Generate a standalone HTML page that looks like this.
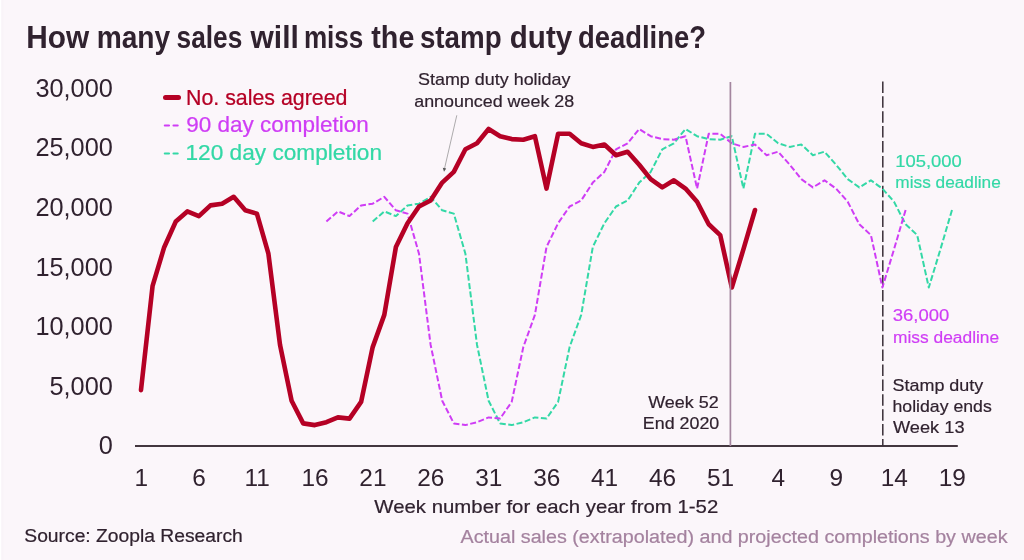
<!DOCTYPE html>
<html><head><meta charset="utf-8"><style>
html,body{margin:0;padding:0;background:#fbf6fa;overflow:hidden;}
svg{display:block;font-family:"Liberation Sans",sans-serif;will-change:transform;}
</style></head><body>
<svg width="1024" height="560" viewBox="0 0 1024 560">
<rect width="1024" height="560" fill="#fbf6fa"/>
<rect width="1.4" height="560" fill="#ffffff"/><rect x="1.4" width="2.2" height="560" fill="#f9f4f8"/>
<text x="26.19" y="48.2" font-size="31" fill="#30222f" textLength="62.86" lengthAdjust="spacingAndGlyphs" font-weight="bold">How</text>
<text x="96.67" y="48.2" font-size="31" fill="#30222f" textLength="73.54" lengthAdjust="spacingAndGlyphs" font-weight="bold">many</text>
<text x="176.58" y="48.2" font-size="31" fill="#30222f" textLength="65.77" lengthAdjust="spacingAndGlyphs" font-weight="bold">sales</text>
<text x="250.57" y="48.2" font-size="31" fill="#30222f" textLength="48.26" lengthAdjust="spacingAndGlyphs" font-weight="bold">will</text>
<text x="303.9" y="48.2" font-size="31" fill="#30222f" textLength="59.49" lengthAdjust="spacingAndGlyphs" font-weight="bold">miss</text>
<text x="371.34" y="48.2" font-size="31" fill="#30222f" textLength="42.99" lengthAdjust="spacingAndGlyphs" font-weight="bold">the</text>
<text x="419.93" y="48.2" font-size="31" fill="#30222f" textLength="81.69" lengthAdjust="spacingAndGlyphs" font-weight="bold">stamp</text>
<text x="509.82" y="48.2" font-size="31" fill="#30222f" textLength="62.36" lengthAdjust="spacingAndGlyphs" font-weight="bold">duty</text>
<text x="577.9" y="48.2" font-size="31" fill="#30222f" textLength="128.08" lengthAdjust="spacingAndGlyphs" font-weight="bold">deadline?</text>
<text x="112.8" y="454.3" font-size="25.3" fill="#30222f" text-anchor="end">0</text>
<text x="112.8" y="394.7" font-size="25.3" fill="#30222f" text-anchor="end">5,000</text>
<text x="112.8" y="335.1" font-size="25.3" fill="#30222f" text-anchor="end">10,000</text>
<text x="112.8" y="275.6" font-size="25.3" fill="#30222f" text-anchor="end">15,000</text>
<text x="112.8" y="216.0" font-size="25.3" fill="#30222f" text-anchor="end">20,000</text>
<text x="112.8" y="156.4" font-size="25.3" fill="#30222f" text-anchor="end">25,000</text>
<text x="112.8" y="96.8" font-size="25.3" fill="#30222f" text-anchor="end">30,000</text>
<text x="141.2" y="486.2" font-size="24.4" fill="#30222f" text-anchor="middle">1</text>
<text x="199.1" y="486.2" font-size="24.4" fill="#30222f" text-anchor="middle">6</text>
<text x="257.1" y="486.2" font-size="24.4" fill="#30222f" text-anchor="middle">11</text>
<text x="315.0" y="486.2" font-size="24.4" fill="#30222f" text-anchor="middle">16</text>
<text x="372.9" y="486.2" font-size="24.4" fill="#30222f" text-anchor="middle">21</text>
<text x="430.8" y="486.2" font-size="24.4" fill="#30222f" text-anchor="middle">26</text>
<text x="488.8" y="486.2" font-size="24.4" fill="#30222f" text-anchor="middle">31</text>
<text x="546.7" y="486.2" font-size="24.4" fill="#30222f" text-anchor="middle">36</text>
<text x="604.6" y="486.2" font-size="24.4" fill="#30222f" text-anchor="middle">41</text>
<text x="662.5" y="486.2" font-size="24.4" fill="#30222f" text-anchor="middle">46</text>
<text x="720.5" y="486.2" font-size="24.4" fill="#30222f" text-anchor="middle">51</text>
<text x="778.4" y="486.2" font-size="24.4" fill="#30222f" text-anchor="middle">4</text>
<text x="836.3" y="486.2" font-size="24.4" fill="#30222f" text-anchor="middle">9</text>
<text x="894.2" y="486.2" font-size="24.4" fill="#30222f" text-anchor="middle">14</text>
<text x="952.2" y="486.2" font-size="24.4" fill="#30222f" text-anchor="middle">19</text>
<line x1="135" y1="446" x2="957.8" y2="446" stroke="#43363f" stroke-width="1.8"/>
<text x="374.3" y="513.3" font-size="18.6" fill="#30222f" stroke="#30222f" stroke-width="0.2" textLength="344" lengthAdjust="spacingAndGlyphs">Week number for each year from 1-52</text>
<text x="24.3" y="541.6" font-size="18.8" fill="#30222f" stroke="#30222f" stroke-width="0.21" textLength="218.5" lengthAdjust="spacingAndGlyphs">Source: Zoopla Research</text>
<text x="460.5" y="542.5" font-size="18.8" fill="#a4829f" stroke="#a4829f" stroke-width="0.21" textLength="547" lengthAdjust="spacingAndGlyphs">Actual sales (extrapolated) and projected completions by week</text>
<line x1="882.8" y1="81.4" x2="882.8" y2="446" stroke="#3a2e38" stroke-width="1.5" stroke-dasharray="11.5 3.4"/>
<path d="M372.7 221.5 L384.3 211.4 L395.9 216.1 L407.5 205.4 L419.0 203.7 L430.6 196.8 L442.2 210.3 L453.8 213.6 L465.4 253.7 L477.0 344.7 L488.6 400.7 L500.1 423.4 L511.7 425.1 L523.3 422.2 L534.9 417.4 L546.5 418.6 L558.1 401.9 L569.6 347.1 L581.2 314.9 L592.8 247.0 L604.4 223.2 L616.0 206.5 L627.6 200.5 L639.2 182.6 L650.7 171.9 L662.3 149.3 L673.9 143.3 L685.5 129.0 L697.1 136.2 L708.7 139.1 L720.2 139.7 L731.8 136.2 L743.4 188.6 L755.0 133.8 L766.6 133.8 L778.2 143.3 L789.8 146.9 L801.3 144.5 L812.9 155.2 L824.5 151.7 L836.1 164.8 L847.7 179.1 L859.3 187.4 L870.9 180.3 L882.4 188.6 L894.0 201.7 L905.6 224.3 L917.2 235.1 L928.8 287.5 L940.4 249.4 L952.0 210.0" fill="none" stroke="#33d8a6" stroke-width="2" stroke-dasharray="6 2.5" stroke-linejoin="round"/>
<path d="M326.4 221.5 L337.9 211.4 L349.5 216.1 L361.1 205.4 L372.7 203.7 L384.3 196.8 L395.9 210.3 L407.5 213.6 L419.0 253.7 L430.6 344.7 L442.2 400.7 L453.8 423.4 L465.4 425.1 L477.0 422.2 L488.6 417.4 L500.1 418.6 L511.7 401.9 L523.3 347.1 L534.9 314.9 L546.5 247.0 L558.1 223.2 L569.6 206.5 L581.2 200.5 L592.8 182.6 L604.4 171.9 L616.0 149.3 L627.6 143.3 L639.2 129.0 L650.7 136.2 L662.3 139.1 L673.9 139.7 L685.5 136.2 L697.1 188.6 L708.7 133.8 L720.2 133.8 L731.8 143.3 L743.4 146.9 L755.0 144.5 L766.6 155.2 L778.2 151.7 L789.8 164.8 L801.3 179.1 L812.9 187.4 L824.5 180.3 L836.1 188.6 L847.7 201.7 L859.3 224.3 L870.9 235.1 L882.4 287.5 L894.0 249.4 L905.6 210.0" fill="none" stroke="#cf3df5" stroke-width="2" stroke-dasharray="6 2.5" stroke-linejoin="round"/>
<path d="M141.0 390.1 L152.6 285.8 L164.2 247.2 L175.8 221.5 L187.3 211.4 L198.9 216.1 L210.5 205.4 L222.1 203.7 L233.7 196.8 L245.3 210.3 L256.9 213.6 L268.4 253.7 L280.0 344.7 L291.6 400.7 L303.2 423.4 L314.8 425.1 L326.4 422.2 L337.9 417.4 L349.5 418.6 L361.1 401.9 L372.7 347.1 L384.3 314.9 L395.9 247.0 L407.5 223.2 L419.0 206.5 L430.6 200.5 L442.2 182.6 L453.8 171.9 L465.4 149.3 L477.0 143.3 L488.6 129.0 L500.1 136.2 L511.7 139.1 L523.3 139.7 L534.9 136.2 L546.5 188.6 L558.1 133.8 L569.6 133.8 L581.2 143.3 L592.8 146.9 L604.4 144.5 L616.0 155.2 L627.6 151.7 L639.2 164.8 L650.7 179.1 L662.3 187.4 L673.9 180.3 L685.5 188.6 L697.1 201.7 L708.7 224.3 L720.2 235.1 L731.8 287.5 L743.4 249.4 L755.0 210.0" fill="none" stroke="#b50125" stroke-width="4.6" stroke-linejoin="round" stroke-linecap="round"/>
<line x1="730.4" y1="82" x2="730.4" y2="446" stroke="#a4869f" stroke-width="1.7"/>
<line x1="165.5" y1="97.6" x2="178.5" y2="97.6" stroke="#b50125" stroke-width="5" stroke-linecap="round"/>
<text x="186" y="104.6" font-size="21.6" fill="#b50125" stroke="#b50125" stroke-width="0.24" textLength="161.5" lengthAdjust="spacingAndGlyphs">No. sales agreed</text>
<text x="186.2" y="132" font-size="21.6" fill="#cf3df5" stroke="#cf3df5" stroke-width="0.24" textLength="182.5" lengthAdjust="spacingAndGlyphs">90 day completion</text>
<text x="185.5" y="159.7" font-size="21.6" fill="#33d8a6" stroke="#33d8a6" stroke-width="0.24" textLength="196.5" lengthAdjust="spacingAndGlyphs">120 day completion</text>
<path d="M164.8 125.5h4.2M173.5 125.5h4.2" stroke="#cf3df5" stroke-width="2.1" stroke-linecap="round"/>
<path d="M164.8 153.5h4.2M173.5 153.5h4.2" stroke="#33d8a6" stroke-width="2.1" stroke-linecap="round"/>
<text x="418" y="85.3" font-size="17" fill="#30222f" stroke="#30222f" stroke-width="0.19" textLength="152.5" lengthAdjust="spacingAndGlyphs">Stamp duty holiday</text>
<text x="414.2" y="106.7" font-size="17" fill="#30222f" stroke="#30222f" stroke-width="0.19" textLength="160" lengthAdjust="spacingAndGlyphs">announced week 28</text>
<line x1="456.8" y1="115.3" x2="444.2" y2="170" stroke="#777" stroke-width="0.6"/><path d="M442.8 167.8L444 171.8L446.2 168.5z" fill="#555"/>
<text x="648.2" y="407.8" font-size="17" fill="#30222f" stroke="#30222f" stroke-width="0.19" textLength="70.5" lengthAdjust="spacingAndGlyphs">Week 52</text>
<text x="642.8" y="429.4" font-size="17" fill="#30222f" stroke="#30222f" stroke-width="0.19" textLength="76.5" lengthAdjust="spacingAndGlyphs">End 2020</text>
<text x="892.5" y="390.6" font-size="17" fill="#30222f" stroke="#30222f" stroke-width="0.19" textLength="90.8" lengthAdjust="spacingAndGlyphs">Stamp duty</text>
<text x="892.5" y="411.8" font-size="17" fill="#30222f" stroke="#30222f" stroke-width="0.19" textLength="99.3" lengthAdjust="spacingAndGlyphs">holiday ends</text>
<text x="893" y="433.4" font-size="17" fill="#30222f" stroke="#30222f" stroke-width="0.19" textLength="71.5" lengthAdjust="spacingAndGlyphs">Week 13</text>
<text x="895.3" y="166.9" font-size="17.3" fill="#33d8a6" stroke="#33d8a6" stroke-width="0.19" textLength="66.5" lengthAdjust="spacingAndGlyphs">105,000</text>
<text x="895.3" y="187.7" font-size="17.3" fill="#33d8a6" stroke="#33d8a6" stroke-width="0.19" textLength="105.5" lengthAdjust="spacingAndGlyphs">miss deadline</text>
<text x="892.8" y="321.2" font-size="17.3" fill="#cf3df5" stroke="#cf3df5" stroke-width="0.19" textLength="56.5" lengthAdjust="spacingAndGlyphs">36,000</text>
<text x="893" y="343" font-size="17.3" fill="#cf3df5" stroke="#cf3df5" stroke-width="0.19" textLength="106.2" lengthAdjust="spacingAndGlyphs">miss deadline</text>
</svg>
</body></html>
